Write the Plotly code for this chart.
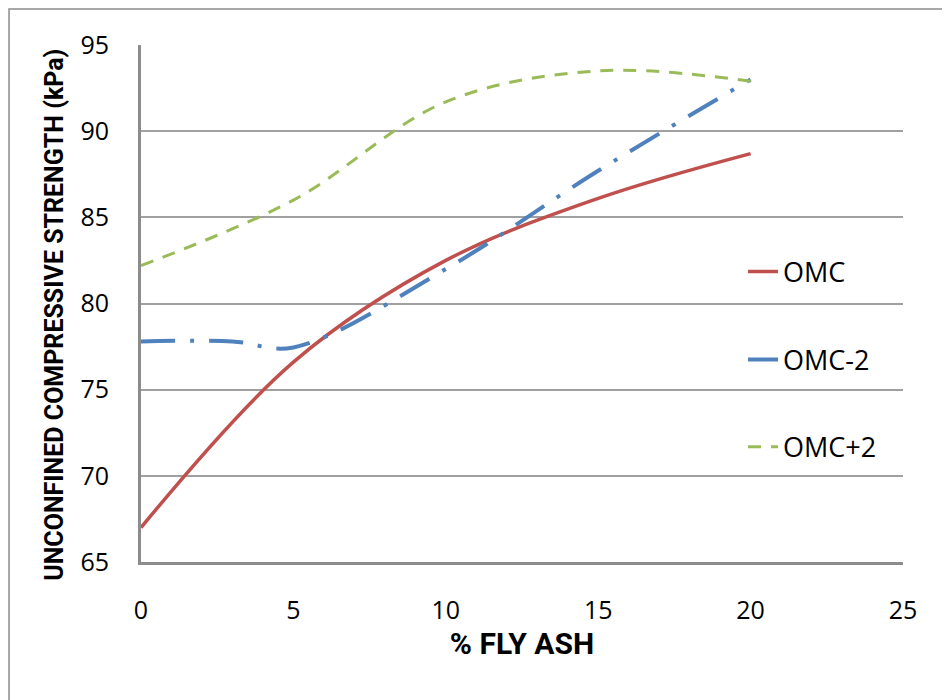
import plotly.graph_objects as go

fly_ash = [0, 5, 10, 15, 20]
omc = [67.0, 76.6, 82.5, 86.1, 88.7]
fly_ash_m2 = [0, 3, 5, 10, 15, 20]
omc_minus2 = [77.8, 77.8, 77.45, 82.0, 87.7, 93.0]
omc_plus2 = [82.2, 86.0, 91.7, 93.5, 92.9]
x_ticks = [0, 5, 10, 15, 20, 25]
y_ticks = [65, 70, 75, 80, 85, 90, 95]
x_title = "% FLY ASH"
y_title = "UNCONFINED COMPRESSIVE STRENGTH (kPa)"

FONT = "Open Sans, Noto Sans, DejaVu Sans, sans-serif"
TFONT = "Liberation Sans Narrow, Roboto, Open Sans, sans-serif"

fig = go.Figure()
fig.add_trace(go.Scatter(x=fly_ash, y=omc, name="OMC", mode="lines",
                         line=dict(color="#C0504D", width=3.5, shape="spline", smoothing=1.0),
                         legend="legend"))
fig.add_trace(go.Scatter(x=fly_ash_m2, y=omc_minus2, name="OMC-2", mode="lines",
                         line=dict(color="#4F81BD", width=4, shape="spline", smoothing=1.0,
                                   dash="34px,15px,4px,15px"),
                         legend="legend2"))
fig.add_trace(go.Scatter(x=fly_ash, y=omc_plus2, name="OMC+2", mode="lines",
                         line=dict(color="#9BBB59", width=3, shape="spline", smoothing=1.0,
                                   dash="13px,10px"),
                         legend="legend3"))

leg_common = dict(x=0.79, xanchor="left", yanchor="middle", bgcolor="rgba(0,0,0,0)",
                  font=dict(family=FONT, size=27, color="#000000"), itemwidth=30)

fig.update_layout(
    width=942, height=692,
    margin=dict(l=133, r=47, t=37, b=138),
    paper_bgcolor="white", plot_bgcolor="white",
    font=dict(family=FONT, color="#000000"),
    showlegend=True,
    legend=dict(y=0.561, **leg_common),
    legend2=dict(y=0.391, **leg_common),
    legend3=dict(y=0.222, **leg_common),
    xaxis=dict(range=[0, 25], tickvals=x_ticks, showgrid=False, zeroline=False,
               showline=True, linecolor="#8C8C8C", linewidth=3,
               ticks="outside", ticklen=24, tickcolor="rgba(0,0,0,0)",
               tickfont=dict(family=FONT, size=25, color="#000000"),
               title=dict(text="<b>" + x_title + "</b>", standoff=8,
                          font=dict(family=TFONT, size=30, color="#000000"))),
    yaxis=dict(range=[65, 95], tickvals=y_ticks, showgrid=True, gridcolor="#A0A0A0",
               gridwidth=1.5, zeroline=False,
               showline=True, linecolor="#8C8C8C", linewidth=3,
               ticks="outside", ticklen=24, tickcolor="rgba(0,0,0,0)",
               tickfont=dict(family=FONT, size=25, color="#000000")),
    annotations=[dict(text="<b>" + y_title + "</b>", xref="paper", yref="paper",
                      x=-0.113, y=0.478, xanchor="center", yanchor="middle",
                      textangle=-90, showarrow=False,
                      font=dict(family=TFONT, size=25, color="#000000"))],
    shapes=[dict(type="rect", xref="paper", yref="paper",
                 x0=-0.1732, y0=-0.5, x1=1.2, y1=1.0696,
                 line=dict(color="#8C8C8C", width=1.5), layer="below")],
)

fig.write_html("out.html")
